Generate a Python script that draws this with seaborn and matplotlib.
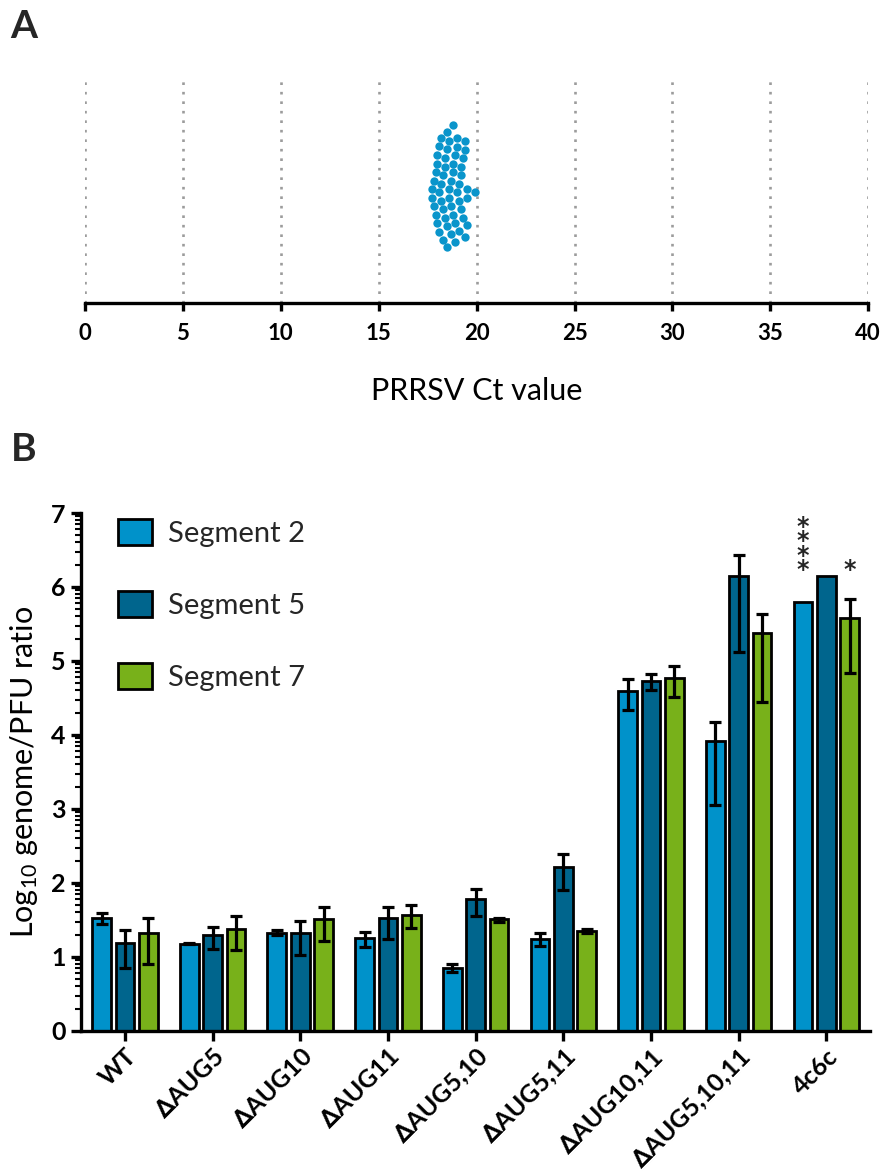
import matplotlib
matplotlib.use("Agg")
import numpy as np
import pandas as pd
import seaborn as sns
import matplotlib.pyplot as plt
from matplotlib.ticker import FixedLocator
from matplotlib.patches import Patch

# ---------------- data ----------------
# Panel A: PRRSV Ct values (one dot per sample)
ct_values = [17.7, 17.7, 17.8, 17.8, 17.9, 17.9, 18.0, 18.0, 18.0, 18.1,
             18.1, 18.1, 18.2, 18.2, 18.2, 18.3, 18.3, 18.3, 18.4, 18.4,
             18.4, 18.5, 18.5, 18.5, 18.5, 18.6, 18.6, 18.6, 18.7, 18.7,
             18.7, 18.8, 18.8, 18.8, 18.8, 18.9, 18.9, 18.9, 19.0, 19.0,
             19.0, 19.1, 19.1, 19.1, 19.2, 19.2, 19.2, 19.3, 19.3, 19.4,
             19.4, 19.4, 19.5, 19.5, 19.5, 19.9]
ct_ticks = [0, 5, 10, 15, 20, 25, 30, 35, 40]

# Panel B
mutants = ["WT", "\u2206AUG5", "\u2206AUG10", "\u2206AUG11", "\u2206AUG5,10",
           "\u2206AUG5,11", "\u2206AUG10,11", "\u2206AUG5,10,11", "4c6c"]
segments = ["Segment 2", "Segment 5", "Segment 7"]
seg2_mean = [1.52, 1.18, 1.33, 1.26, 0.85, 1.24, 4.60, 3.92, 5.80]
seg5_mean = [1.19, 1.29, 1.32, 1.52, 1.78, 2.22, 4.73, 6.15, 6.15]
seg7_mean = [1.32, 1.38, 1.51, 1.57, 1.51, 1.35, 4.77, 5.38, 5.58]
# error bar ends (low, high); NaN = no error bar
seg2_lo = [1.44, 1.17, 1.29, 1.14, 0.79, 1.15, 4.34, 3.05, np.nan]
seg2_hi = [1.60, 1.19, 1.36, 1.34, 0.90, 1.33, 4.76, 4.18, np.nan]
seg5_lo = [0.85, 1.11, 1.03, 1.24, 1.56, 1.91, 4.61, 5.12, np.nan]
seg5_hi = [1.37, 1.40, 1.48, 1.68, 1.92, 2.39, 4.83, 6.43, np.nan]
seg7_lo = [0.90, 1.09, 1.21, 1.39, 1.47, 1.32, 4.51, 4.45, 4.84]
seg7_hi = [1.52, 1.55, 1.68, 1.70, 1.53, 1.38, 4.93, 5.64, 5.84]
seg_colors = ["#0092CA", "#00658D", "#78B11A"]
y_ticks = [0, 1, 2, 3, 4, 5, 6, 7]

# ---------------- style ----------------
sns.set_theme(style="white")
plt.rcParams["font.family"] = ["Lato", "DejaVu Sans"]
plt.rcParams["mathtext.fontset"] = "custom"
plt.rcParams["mathtext.rm"] = "Lato"
plt.rcParams["mathtext.default"] = "regular"

fig = plt.figure(figsize=(8.81, 11.75), dpi=100)
axA = fig.add_axes([0.0965, 0.742, 0.889, 0.194])
axB = fig.add_axes([0.092, 0.1226, 0.8956, 0.4408])

# ---------------- Panel A ----------------
sns.swarmplot(x=ct_values, ax=axA, color="#0A95CB", size=6.0, linewidth=0, zorder=3)
axA.set_xlim(0, 40)
axA.set_ylim(0.5, -0.5)
axA.set_xticks(ct_ticks)
axA.set_yticks([])
for s in ["left", "top", "right"]:
    axA.spines[s].set_visible(False)
axA.spines["bottom"].set_linewidth(2.4)
axA.spines["bottom"].set_color("black")
axA.tick_params(axis="x", direction="out", length=6, width=2.4, colors="black",
                labelsize=16, pad=8, bottom=True)
for lab in axA.get_xticklabels():
    lab.set_fontweight("bold")
axA.grid(axis="x", color="#9C9C9C", linestyle=(0, (1, 2.6)), linewidth=1.9)
axA.set_axisbelow(True)
axA.set_xlabel("PRRSV Ct value", fontsize=22, labelpad=24, color="black")

# ---------------- Panel B ----------------
df = pd.DataFrame({
    "Mutant": mutants * 3,
    "Segment": np.repeat(segments, len(mutants)),
    "Ratio": seg2_mean + seg5_mean + seg7_mean,
})
sns.barplot(data=df, x="Mutant", y="Ratio", hue="Segment", order=mutants,
            hue_order=segments, palette=seg_colors, saturation=1, width=0.8,
            gap=0.2, errorbar=None, edgecolor="black", linewidth=2.0, ax=axB)

bar_containers = list(axB.containers)[:3]
los = [seg2_lo, seg5_lo, seg7_lo]
his = [seg2_hi, seg5_hi, seg7_hi]
centers = []
for ci, cont in enumerate(bar_containers):
    cx = []
    for bi, bar in enumerate(cont.patches):
        x = bar.get_x() + bar.get_width() / 2
        h = bar.get_height()
        cx.append(x)
        lo, hi = los[ci][bi], his[ci][bi]
        if not (np.isnan(lo) or np.isnan(hi)):
            axB.errorbar(x, h, yerr=[[h - lo], [hi - h]], fmt="none",
                         ecolor="black", elinewidth=2.3, capsize=4.5,
                         capthick=2.3, zorder=4)
    centers.append(cx)

axB.set_xlim(-0.5, 8.5)
axB.set_ylim(0, 7)
axB.set_yticks(y_ticks)
minor = [n + np.log10(k) for n in range(7) for k in range(2, 10)]
axB.yaxis.set_minor_locator(FixedLocator(minor))
for s in ["top", "right"]:
    axB.spines[s].set_visible(False)
for s in ["left", "bottom"]:
    axB.spines[s].set_linewidth(2.4)
    axB.spines[s].set_color("black")
axB.tick_params(axis="both", which="major", direction="out", length=7, width=2.4,
                colors="black", left=True, bottom=True)
axB.tick_params(axis="y", which="minor", direction="out", length=4, width=1.5,
                colors="black", left=True)
axB.tick_params(axis="y", which="major", labelsize=18, pad=4)
axB.tick_params(axis="x", which="major", pad=3)
for lab in axB.get_yticklabels():
    lab.set_fontweight("bold")
axB.set_xticks(range(len(mutants)))
axB.set_xticklabels(mutants, rotation=45, ha="right", rotation_mode="anchor",
                    fontweight="bold", fontsize=18)
axB.set_xlabel("")
axB.set_ylabel("Log$_{10}$ genome/PFU ratio", fontsize=22, labelpad=8, color="black")

handles = [Patch(facecolor=c, edgecolor="black", linewidth=2.0) for c in seg_colors]
axB.legend(handles, segments, loc="upper left", bbox_to_anchor=(0.047, 0.988),
           frameon=False, fontsize=21, handlelength=1.17, handleheight=0.97,
           labelspacing=1.52, handletextpad=0.55, borderpad=0, borderaxespad=0)

# significance stars
axB.text(centers[0][8], 6.065, "*\n*\n*\n*", ha="center", va="bottom",
         fontsize=17, fontweight="bold", family="DejaVu Sans", linespacing=0.5)
axB.text(centers[2][8], 6.065, "*", ha="center", va="bottom",
         fontsize=17, fontweight="bold", family="DejaVu Sans")

# panel letters
fig.text(0.012, 0.992, "A", fontsize=28, fontweight="bold", va="top", ha="left")
fig.text(0.012, 0.632, "B", fontsize=28, fontweight="bold", va="top", ha="left")

fig.savefig("out.png", dpi=100)
